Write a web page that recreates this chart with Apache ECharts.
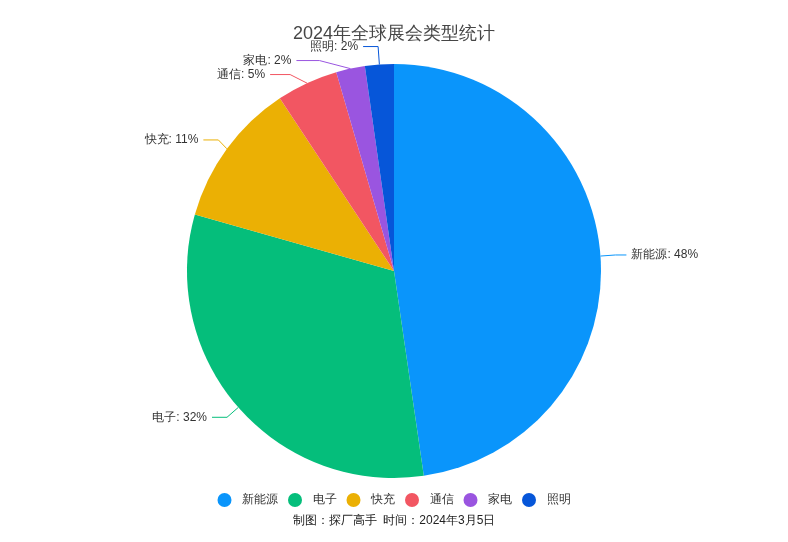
<!DOCTYPE html>
<html>
<head>
<meta charset="utf-8">
<script src="https://cdn.jsdelivr.net/npm/echarts@6/dist/echarts.min.js"></script>
<style>html,body{margin:0;padding:0;background:#fff}#c{width:788px;height:542px}</style>
</head>
<body>
<div id="c"></div>
<script>
var categories = ['新能源', '电子', '快充', '通信', '家电', '照明'];
var values = [47.7, 31.7, 11.3, 4.8, 2.25, 2.25];
var colors = ['#0a95fb', '#05be7b', '#ebb004', '#f25662', '#9a55e0', '#0656d9'];
var lineLen = [15, 15, 15, 15, 15, 18];
var lineLen2 = [11, 15, 15, 20, 23, 15];
var titleText = '2024年全球展会类型统计';
var footText = '制图：探厂高手  时间：2024年3月5日';

var chart = echarts.init(document.getElementById('c'));
chart.setOption({
  color: colors,
  title: [
    { text: titleText, left: 'center', top: 20, textStyle: { fontSize: 18, fontWeight: 'normal', color: '#464646' } },
    { text: footText, left: 'center', bottom: 10, textStyle: { fontSize: 12, fontWeight: 'normal', color: '#222' } }
  ],
  legend: {
    bottom: 30, left: 'center', icon: 'circle', itemWidth: 25, itemHeight: 14, itemGap: 10,
    textStyle: { fontSize: 12, color: '#333' },
    data: categories
  },
  series: [{
    type: 'pie',
    center: ['50%', '50%'],
    radius: 207,
    startAngle: 90,
    percentPrecision: 0,
    label: { formatter: '{b}: {d}%', fontSize: 12, color: '#333' },
    labelLine: { length: 15, length2: 15 },
    data: categories.map(function (c, i) {
      return { name: c, value: values[i], labelLine: { length: lineLen[i], length2: lineLen2[i] } };
    })
  }]
});
</script>
</body>
</html>
